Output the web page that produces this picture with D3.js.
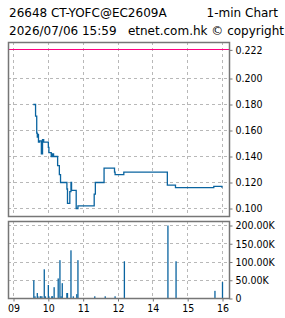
<!DOCTYPE html>
<html><head><meta charset="utf-8">
<script src="https://cdn.jsdelivr.net/npm/d3@7"></script>
<style>
html,body{margin:0;padding:0;background:#fff;}
svg{display:block;}
</style></head>
<body>
<script>
// ---- data ----
const titleLeft1 = "26648 CT-YOFC@EC2609A";
const titleRight1 = "1-min Chart";
const titleLeft2 = "2026/07/06 15:59";
const titleRight2 = "etnet.com.hk \u00a9 copyright";

const priceTimes = ["09:34","09:38","09:40","09:41","09:42","09:43","09:45","09:48","09:50","09:52","10:00","10:01","10:05","10:07","10:09","10:16","10:19","10:21","10:32","10:33","10:37","10:39","10:40","10:48","10:51","11:19","11:21","11:36","11:54","11:55","13:10","14:25","14:39","15:45","15:59","16:00"];
const priceValues = [0.180,0.171,0.158,0.155,0.157,0.151,0.152,0.142,0.153,0.151,0.147,0.143,0.140,0.142,0.140,0.133,0.126,0.120,0.115,0.104,0.113,0.120,0.114,0.100,0.102,0.111,0.120,0.131,0.128,0.126,0.128,0.118,0.116,0.117,0.1165,0.1165];
const prevClose = 0.222;

const volTimes = ["09:35","09:37","09:41","09:42","09:46","09:47","09:49","09:53","09:55","10:00","10:01","10:06","10:07","10:10","10:17","10:20","10:22","10:24","10:32","10:33","10:39","10:43","10:49","10:51","11:20","11:38","11:55","13:11","14:26","14:40","15:47","16:00"];
const volValues = [50000,6000,15000,6000,6000,6000,6000,80000,6000,37000,6000,6000,6000,31000,55000,105000,6000,42000,15000,15000,132000,6000,12000,105000,6000,6000,6000,102000,200000,102000,21000,45000];

const priceTicks = [0.100,0.120,0.140,0.160,0.180,0.200];
const volTicks = [0,50000,100000,150000,200000];
const volTickLabels = ["0","50.00K","100.00K","150.00K","200.00K"];
const hourTicks = ["09:00","10:00","11:00","12:00","14:00","15:00","16:00"];
const hourLabels = ["09","10","11","12","14","15","16"];

// ---- helpers ----
function tm(s){ const [h,mi]=s.split(":").map(Number); let m=(h-9)*60+mi; if(h>=13) m-=60; return m; }

const W=285,H=318;
const L=8,R=229, T1=42,B1=216, T2=221,B2=298;
const blue="#0a64a0", pink="#ff0080", grid="#b8b8b8", border="#767676";

const svg=d3.select("body").append("svg").attr("width",W).attr("height",H);

const x=d3.scaleLinear().domain([0,360]).range([13.5,222.5]);
const y=d3.scaleLinear().domain([0.1,0.2]).range([208.5,78.5]);
const yv=d3.scaleLinear().domain([0,200000]).range([298.5,225.5]);

const tFont="DejaVu Sans";
const aFont="DejaVu Sans Condensed";

// titles
svg.append("text").attr("x",9).attr("y",16.5).attr("font-family",tFont).attr("font-size",12).text(titleLeft1);
svg.append("text").attr("x",278).attr("y",16.5).attr("text-anchor","end").attr("font-family",tFont).attr("font-size",12).text(titleRight1);
svg.append("text").attr("x",9).attr("y",35).attr("font-family",tFont).attr("font-size",12).text(titleLeft2);
svg.append("text").attr("x",284).attr("y",35).attr("text-anchor","end").attr("font-family",tFont).attr("font-size",12).text(titleRight2);

function px(v){ return Math.round(v-0.5)+0.5; }

// gridlines main
const g1=svg.append("g");
g1.selectAll("line.h").data(priceTicks).join("line")
  .attr("x1",L).attr("x2",R).attr("y1",d=>px(y(d))).attr("y2",d=>px(y(d)))
  .attr("stroke",grid).attr("stroke-dasharray","3,3");
g1.selectAll("line.v").data(hourTicks).join("line")
  .attr("x1",d=>px(x(tm(d)))).attr("x2",d=>px(x(tm(d)))).attr("y1",T1).attr("y2",B1)
  .attr("stroke",grid).attr("stroke-dasharray","3,3");
// gridlines vol
const g2=svg.append("g");
g2.selectAll("line.h").data(volTicks.slice(1)).join("line")
  .attr("x1",L).attr("x2",R).attr("y1",d=>px(yv(d))).attr("y2",d=>px(yv(d)))
  .attr("stroke",grid).attr("stroke-dasharray","3,3");
g2.selectAll("line.v").data(hourTicks).join("line")
  .attr("x1",d=>px(x(tm(d)))).attr("x2",d=>px(x(tm(d)))).attr("y1",T2).attr("y2",B2)
  .attr("stroke",grid).attr("stroke-dasharray","3,3");

// prev close line
svg.append("line").attr("x1",L).attr("x2",R).attr("y1",px(y(prevClose))).attr("y2",px(y(prevClose)))
  .attr("stroke",pink).attr("stroke-width",1.2);

// price line
const pts=priceTimes.map((t,i)=>[tm(t),priceValues[i]]);
svg.append("path").datum(pts)
  .attr("d",d3.line().x(d=>x(d[0])).y(d=>y(d[1])).curve(d3.curveStepAfter))
  .attr("fill","none").attr("stroke",blue).attr("stroke-width",1.3);

// volume bars
svg.append("g").selectAll("rect").data(volTimes.map((t,i)=>[tm(t),volValues[i]])).join("rect")
  .attr("x",d=>x(d[0])-0.65).attr("width",1.3)
  .attr("y",d=>yv(d[1])).attr("height",d=>yv(0)-yv(d[1]))
  .attr("fill",blue);

// borders
[[T1,B1],[T2,B2]].forEach(([t,b])=>{
  svg.append("rect").attr("x",L+0.5).attr("y",t+0.5).attr("width",R-L).attr("height",b-t)
    .attr("fill","none").attr("stroke",border).attr("stroke-width",1.5);
});

// right axis price
const axP=svg.append("g").attr("transform",`translate(${R+0.5},0)`)
  .call(d3.axisRight(y).tickValues(priceTicks.concat([prevClose])).tickFormat(d3.format(".3f")).tickSize(3).tickPadding(3));
const axV=svg.append("g").attr("transform",`translate(${R+0.5},0)`)
  .call(d3.axisRight(yv).tickValues(volTicks).tickFormat((d,i)=>volTickLabels[i]).tickSize(3).tickPadding(3));
const axX=svg.append("g").attr("transform",`translate(0,${B2+0.5})`)
  .call(d3.axisBottom(x).tickValues(hourTicks.map(tm)).tickFormat((d,i)=>hourLabels[i]).tickSize(3).tickPadding(3));
[axP,axV,axX].forEach(a=>{
  a.select(".domain").remove();
  a.selectAll(".tick line").attr("stroke",border);
  a.selectAll(".tick text").attr("font-family",aFont).attr("font-size",10.5).attr("fill","#000");
});
</script>
</body></html>
